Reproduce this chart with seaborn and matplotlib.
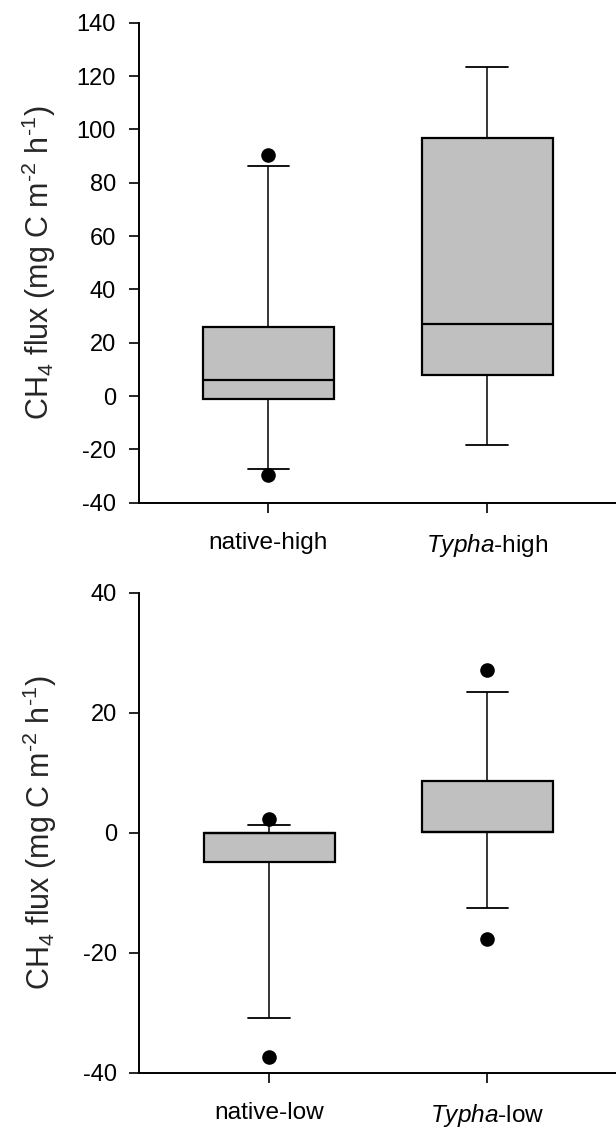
import matplotlib
matplotlib.use("Agg")
import matplotlib.pyplot as plt
import seaborn as sns
import pandas as pd

# ---------------- data (five-number summaries) ----------------
groups_top = ["native-high", "Typha-high"]
labels_top = ["native-high", r"$\mathit{Typha}$-high"]
whislo_top = [-27.3, -18.2]
q1_top = [-1.2, 7.9]
median_top = [6.1, 26.9]
q3_top = [25.9, 96.8]
whishi_top = [86.2, 123.4]
outlier_group_top = ["native-high", "native-high"]
outlier_value_top = [90.5, -29.6]

groups_bot = ["native-low", "Typha-low"]
labels_bot = ["native-low", r"$\mathit{Typha}$-low"]
whislo_bot = [-30.9, -12.6]
q1_bot = [-4.8, 0.05]
median_bot = [0.0, 0.05]
q3_bot = [0.0, 8.6]
whishi_bot = [1.3, 23.5]
outlier_group_bot = ["native-low", "native-low", "Typha-low", "Typha-low"]
outlier_value_bot = [2.3, -37.3, 27.2, -17.7]

ylim_top = (-40, 140)
yticks_top = [-40, -20, 0, 20, 40, 60, 80, 100, 120, 140]
ylim_bot = (-40, 40)
yticks_bot = [-40, -20, 0, 20, 40]
ylabel = r"CH$_4$ flux (mg C m$^{\text{-}2}$ h$^{\text{-}1}$)"

# ---------------- style ----------------
sns.set_theme(style="ticks")
plt.rcParams["font.family"] = ["Liberation Sans", "DejaVu Sans"]
plt.rcParams["mathtext.fontset"] = "custom"
plt.rcParams["mathtext.rm"] = "Liberation Sans"
plt.rcParams["mathtext.it"] = "Liberation Sans:italic"
plt.rcParams["mathtext.bf"] = "Liberation Sans:bold"
plt.rcParams["axes.unicode_minus"] = False

FS = 17
BOXCOL = "#c0c0c0"

fig = plt.figure(figsize=(6.16, 11.27), dpi=100)
ax1 = fig.add_axes([138.5 / 616, 1 - 502.7 / 1127, 1 - 138.5 / 616, 480 / 1127])
ax2 = fig.add_axes([139.3 / 616, 1 - 1072.7 / 1127, 1 - 139.3 / 616, 480 / 1127])


def five_num_frame(groups, lo, q1, med, q3, hi):
    rows = []
    for g, a, b, c, d, e in zip(groups, lo, q1, med, q3, hi):
        for v in (a, b, c, d, e):
            rows.append({"group": g, "value": v})
    return pd.DataFrame(rows)


def draw(ax, groups, labels, lo, q1, med, q3, hi, og, ov, ylim, yticks):
    df = five_num_frame(groups, lo, q1, med, q3, hi)
    sns.boxplot(
        data=df, x="group", y="value", order=groups, ax=ax,
        whis=(0, 100), width=0.6, color=BOXCOL, saturation=1,
        linecolor="black", linewidth=1.6, fliersize=0,
        capwidths=0.19,
        whiskerprops=dict(linewidth=1.1),
        capprops=dict(linewidth=1.3),
    )
    odf = pd.DataFrame({"group": og, "value": ov})
    sns.stripplot(
        data=odf, x="group", y="value", order=groups, ax=ax,
        jitter=False, color="black", size=10.5, linewidth=0, zorder=5,
    )
    ax.set_xlim(-0.594, 1.589)
    ax.set_ylim(*ylim)
    ax.set_yticks(yticks)
    ax.set_yticklabels([str(t) for t in yticks], fontsize=FS)
    ax.set_xticks([0, 1])
    ax.set_xticklabels(labels, fontsize=FS + 0.6)
    ax.set_xlabel("")
    ax.set_ylabel(ylabel, fontsize=22)
    ax.yaxis.set_label_coords(-0.168, 0.5)
    for s in ("top", "right"):
        ax.spines[s].set_visible(False)
    for s in ("left", "bottom"):
        ax.spines[s].set_linewidth(1.4)
        ax.spines[s].set_color("black")
    ax.tick_params(axis="y", direction="out", length=7.2, width=1.2, pad=9, colors="black")
    ax.tick_params(axis="x", direction="out", length=7.2, width=1.2, pad=14, colors="black")
    ax.set_facecolor("white")


draw(ax1, groups_top, labels_top, whislo_top, q1_top, median_top, q3_top, whishi_top,
     outlier_group_top, outlier_value_top, ylim_top, yticks_top)
draw(ax2, groups_bot, labels_bot, whislo_bot, q1_bot, median_bot, q3_bot, whishi_bot,
     outlier_group_bot, outlier_value_bot, ylim_bot, yticks_bot)

fig.savefig("out.png", dpi=100, facecolor="white")
